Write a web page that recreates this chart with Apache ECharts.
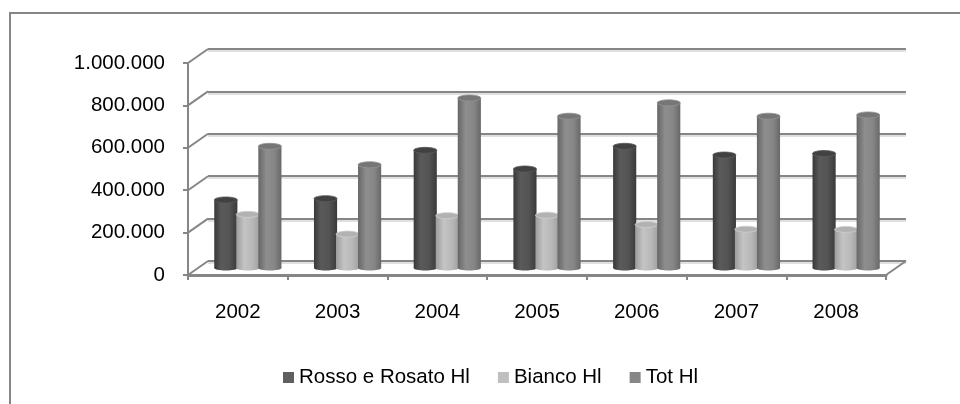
<!DOCTYPE html>
<html>
<head>
<meta charset="utf-8">
<style>
  html, body { margin: 0; padding: 0; background: #fff; }
  #chart { width: 960px; height: 404px; }
</style>
<script src="https://cdn.jsdelivr.net/npm/echarts@6/dist/echarts.min.js"></script>
</head>
<body>
<div id="chart"></div>
<script>
// Wine production by type, hectolitres per year
const years = ['2002', '2003', '2004', '2005', '2006', '2007', '2008'];
const rossoHl = [321000, 327000, 555000, 467000, 574000, 533000, 540000];
const biancoHl = [253000, 160000, 247000, 249000, 205000, 183000, 182000];
const totHl = [574000, 487000, 802000, 716000, 779000, 716000, 722000];
const yTicks = [0, 200000, 400000, 600000, 800000, 1000000];
const seriesNames = ['Rosso e Rosato Hl', 'Bianco Hl', 'Tot Hl'];

const FONT = '"Liberation Sans", Arial, sans-serif';
const LINE = '#868686';
// depth of the 3D box: back wall offset, and the mid-depth where the columns stand
const DEPTH_X = 20, DEPTH_Y = 14;
const MID_X = DEPTH_X / 2, MID_Y = DEPTH_Y / 2;

function fmtIt(v) {
  return String(v).replace(/\B(?=(\d{3})+(?!\d))/g, '.');
}

const looks = [
  { body: [[0, '#383838'], [0.3, '#5a5a5a'], [0.65, '#545454'], [1, '#3a3a3a']], top: '#414141', rim: '#5a5a5a', legend: '#555555' },
  { body: [[0, '#9c9c9c'], [0.35, '#c4c4c4'], [0.7, '#b8b8b8'], [1, '#a0a0a0']], top: '#b2b2b2', rim: '#cfcfcf', legend: '#bbbbbb' },
  { body: [[0, '#666666'], [0.35, '#8e8e8e'], [0.7, '#868686'], [1, '#686868']], top: '#767676', rim: '#939393', legend: '#808080' }
];

function cylinder(k) {
  const look = looks[k];
  return function (params, api) {
    const i = api.value(0), v = api.value(1);
    const base = api.coord([i, 0]);
    const top = api.coord([i, v]);
    const band = api.size([1, 0])[0];
    const w = band * 0.232;
    const cx = base[0] + MID_X + (k - 1) * band * 0.221;
    const by = base[1] - MID_Y;
    const ty = top[1] - MID_Y;
    const grad = new echarts.graphic.LinearGradient(0, 0, 1, 0,
      look.body.map(s => ({ offset: s[0], color: s[1] })));
    return {
      type: 'group',
      children: [
        { type: 'ellipse', shape: { cx: cx, cy: by, rx: w / 2, ry: 2.5 }, style: { fill: grad } },
        { type: 'rect', shape: { x: cx - w / 2, y: ty, width: w, height: by - ty }, style: { fill: grad } },
        { type: 'ellipse', shape: { cx: cx, cy: ty, rx: w / 2, ry: 3 },
          style: { fill: look.top, stroke: look.rim, lineWidth: 0.8 } }
      ]
    };
  };
}

// diagonal edges joining the front value axis to the back wall
function depthEdges(params, api) {
  const v = api.value(0);
  const cs = params.coordSys;
  const y = api.coord([0, v])[1];
  const children = [{
    type: 'line',
    shape: { x1: cs.x, y1: y, x2: cs.x + DEPTH_X, y2: y - DEPTH_Y },
    style: { stroke: LINE, lineWidth: 2 }
  }];
  if (v === 0) {
    children.push({
      type: 'line',
      shape: { x1: cs.x + cs.width, y1: y, x2: cs.x + cs.width + DEPTH_X, y2: y - DEPTH_Y },
      style: { stroke: LINE, lineWidth: 2 }
    });
  }
  return { type: 'group', children: children };
}

const yMin = yTicks[0], yMax = yTicks[yTicks.length - 1], yStep = yTicks[1] - yTicks[0];
const seriesValues = [rossoHl, biancoHl, totHl];

const chart = echarts.init(document.getElementById('chart'), null, { renderer: 'canvas' });
chart.setOption({
  backgroundColor: '#ffffff',
  animation: false,
  textStyle: { fontFamily: FONT },
  graphic: [{
    type: 'rect', z: -10,
    shape: { x: 10, y: 13, width: 1000, height: 600 },
    style: { fill: 'none', stroke: LINE, lineWidth: 2 }
  }],
  grid: [
    { left: 188, right: 74, top: 63, bottom: 129 },
    { left: 188 + DEPTH_X, right: 74 - DEPTH_X, top: 63 - DEPTH_Y, bottom: 129 + DEPTH_Y }
  ],
  xAxis: [{
    type: 'category', gridIndex: 0, data: years,
    axisLine: { lineStyle: { color: LINE, width: 3 } },
    axisTick: { show: true, length: 5, lineStyle: { color: LINE, width: 2 } },
    axisLabel: { color: '#000', fontSize: 20.5, fontFamily: FONT, margin: 27 },
    splitLine: { show: false }
  }, {
    type: 'category', gridIndex: 1, data: years, show: false
  }],
  yAxis: [{
    type: 'value', gridIndex: 0, min: yMin, max: yMax, interval: yStep,
    axisLine: { show: true, lineStyle: { color: LINE, width: 2 } },
    axisTick: { show: true, length: 5, lineStyle: { color: LINE, width: 2 } },
    axisLabel: { color: '#000', fontSize: 20.5, fontFamily: FONT, margin: 23, formatter: fmtIt },
    splitLine: { show: false }
  }, {
    type: 'value', gridIndex: 1, min: yMin, max: yMax, interval: yStep,
    axisLine: { show: false }, axisTick: { show: false }, axisLabel: { show: false },
    splitLine: { show: true, lineStyle: { color: LINE, width: 2, shadowColor: 'rgba(0,0,0,0.12)', shadowOffsetY: 2 } }
  }],
  legend: {
    left: 278, top: 362,
    itemWidth: 11, itemHeight: 11, itemGap: 28,
    icon: 'rect',
    textStyle: { color: '#000', fontSize: 20.5, fontFamily: FONT },
    data: seriesNames.map((n, k) => ({ name: n, itemStyle: { color: looks[k].legend } }))
  },
  series: [{
    type: 'custom', name: 'edges', xAxisIndex: 0, yAxisIndex: 0,
    data: yTicks.map(v => [v]), encode: { y: 0 },
    renderItem: depthEdges, silent: true, z: 1
  }].concat(seriesNames.map((n, k) => ({
    type: 'custom', name: n, xAxisIndex: 0, yAxisIndex: 0,
    data: seriesValues[k].map((v, i) => [i, v]), encode: { x: 0, y: 1 },
    itemStyle: { color: looks[k].legend, opacity: 0.94 },
    renderItem: cylinder(k), z: 3 + k
  })))
});
</script>
</body>
</html>
